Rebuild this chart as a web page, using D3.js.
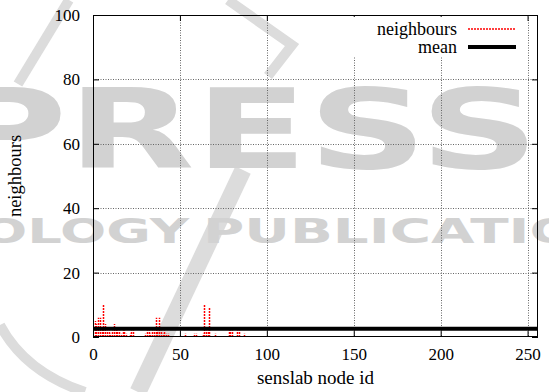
<!DOCTYPE html>
<html>
<head>
<meta charset="utf-8">
<script src="https://cdn.jsdelivr.net/npm/d3@7"></script>
<style>
  body { margin: 0; background: #fff; }
  svg { display: block; }
</style>
</head>
<body>
<div id="chart"></div>
<script>
// node ids with neighbours, and how many each one has
var nodeIds = [1, 2, 3, 4, 5, 6, 7, 8, 9, 10, 11, 12, 13, 14, 15, 16, 17, 18, 19,
               21, 22, 23, 30, 31, 32, 33, 34, 35, 36, 37, 38, 39, 40, 41, 42, 43,
               53, 58, 59, 63, 64, 65, 66, 67, 70, 78, 79, 80, 83, 84, 87];
var neighbours = [5, 4, 6, 6, 3, 10, 4, 2, 2, 1, 2, 4, 3, 2, 2, 1, 2, 2, 1,
                  1, 2, 2, 1, 2, 2, 1, 2, 2, 6, 2, 6, 2, 1, 2, 1, 1,
                  1, 1, 1, 1, 10, 2, 2, 9, 1, 2, 2, 2, 2, 2, 1];
var meanNeighbours = 2.6;

var xTicks = [0, 50, 100, 150, 200, 250];
var yTicks = [0, 20, 40, 60, 80, 100];
var xGrid = [50, 100, 150, 200, 250];
var yGrid = [20, 40, 60, 80];

var serif = "Liberation Serif, serif";

var svgWidth = 549;
var svgHeight = 392;
var margin = {top: 15, right: 11, bottom: 55, left: 93};
var width = svgWidth - margin.left - margin.right;
var height = svgHeight - margin.top - margin.bottom;

var svg = d3.select("#chart")
  .append("svg")
  .attr("width", svgWidth)
  .attr("height", svgHeight);

// publisher watermark behind the plot
var wm = svg.append("g").attr("class", "watermark");
wm.append("path")
  .attr("d", "M69,0 L18,84")
  .attr("stroke", "#dcdcdc").attr("stroke-width", 10).attr("fill", "none");
wm.append("path")
  .attr("d", "M228,0 L292,45 L268,76")
  .attr("stroke", "#dcdcdc").attr("stroke-width", 10).attr("fill", "none");
wm.append("path")
  .attr("d", "M243,170 L138,392")
  .attr("stroke", "#dcdcdc").attr("stroke-width", 17).attr("fill", "none");
wm.append("path")
  .attr("d", "M0,325 Q25,372 85,392")
  .attr("stroke", "#dcdcdc").attr("stroke-width", 10).attr("fill", "none");
wm.append("text")
  .attr("x", -54).attr("y", 168)
  .attr("textLength", 593).attr("lengthAdjust", "spacingAndGlyphs")
  .attr("font-family", "DejaVu Sans").attr("font-weight", "bold")
  .attr("font-size", 111).attr("fill", "#d2d2d2")
  .text("PRESS");
wm.append("text")
  .attr("x", -224).attr("y", 243)
  .attr("textLength", 413).attr("lengthAdjust", "spacingAndGlyphs")
  .attr("font-family", "DejaVu Sans").attr("font-weight", "bold")
  .attr("font-size", 34).attr("fill", "#d2d2d2")
  .text("TECHNOLOGY");
wm.append("text")
  .attr("x", 203).attr("y", 243)
  .attr("textLength", 462).attr("lengthAdjust", "spacingAndGlyphs")
  .attr("font-family", "DejaVu Sans").attr("font-weight", "bold")
  .attr("font-size", 34).attr("fill", "#d2d2d2")
  .text("PUBLICATIONS");

var chartGroup = svg.append("g")
  .attr("transform", `translate(${margin.left}, ${margin.top})`);

var xScale = d3.scaleLinear().domain([0, 256]).range([0, width]);
var yScale = d3.scaleLinear().domain([0, 100]).range([height, 0]);

// dotted grid
chartGroup.selectAll("line.xgrid")
  .data(xGrid).enter().append("line")
  .attr("class", "xgrid")
  .attr("x1", d => Math.round(xScale(d)) + 0.5).attr("x2", d => Math.round(xScale(d)) + 0.5)
  .attr("y1", 0).attr("y2", height)
  .attr("stroke", "#666").attr("stroke-width", 1).attr("stroke-dasharray", "1,1.5");
chartGroup.selectAll("line.ygrid")
  .data(yGrid).enter().append("line")
  .attr("class", "ygrid")
  .attr("y1", d => Math.round(yScale(d)) + 0.5).attr("y2", d => Math.round(yScale(d)) + 0.5)
  .attr("x1", 0).attr("x2", width)
  .attr("stroke", "#666").attr("stroke-width", 1).attr("stroke-dasharray", "1,1.5");

// key sits on an opaque box that hides the grid
svg.append("rect")
  .attr("x", 345).attr("y", 17).attr("width", 178).attr("height", 39)
  .attr("fill", "#fff");

// axes, ticks point inwards and are mirrored
var bottomAxis = d3.axisBottom(xScale).tickValues(xTicks).tickSize(-6).tickPadding(11);
var topAxis = d3.axisTop(xScale).tickValues(xTicks).tickSize(-6).tickFormat("");
var leftAxis = d3.axisLeft(yScale).tickValues(yTicks).tickSize(-6).tickPadding(13);
var rightAxis = d3.axisRight(yScale).tickValues(yTicks).tickSize(-6).tickFormat("");

function styleAxis(g) {
  g.select(".domain").remove();
  g.attr("font-family", serif).attr("font-size", 17);
  g.selectAll(".tick line").attr("stroke", "#000");
  g.selectAll(".tick text").attr("fill", "#000");
}

chartGroup.append("g").attr("transform", `translate(0, ${height})`).call(bottomAxis).call(styleAxis);
chartGroup.append("g").call(topAxis).call(styleAxis);
chartGroup.append("g").call(leftAxis).call(styleAxis);
chartGroup.append("g").attr("transform", `translate(${width}, 0)`).call(rightAxis).call(styleAxis);

// neighbours as dashed impulses
chartGroup.selectAll("line.impulse")
  .data(nodeIds).enter().append("line")
  .attr("class", "impulse")
  .attr("x1", d => Math.round(xScale(d)) + 0.5).attr("x2", d => Math.round(xScale(d)) + 0.5)
  .attr("y1", yScale(0))
  .attr("y2", (d, i) => yScale(neighbours[i]))
  .attr("stroke", "#ff0000").attr("stroke-width", 1.5).attr("stroke-dasharray", "2,1");

// mean line
chartGroup.append("line")
  .attr("x1", xScale(0)).attr("x2", xScale(256))
  .attr("y1", yScale(meanNeighbours)).attr("y2", yScale(meanNeighbours))
  .attr("stroke", "#000").attr("stroke-width", 4);

// border
chartGroup.append("rect")
  .attr("x", 0.5).attr("y", 0.5).attr("width", width - 1).attr("height", height - 1)
  .attr("fill", "none").attr("stroke", "#000").attr("stroke-width", 1);

// axis titles
chartGroup.append("text")
  .attr("transform", `translate(${21 - margin.left}, ${height / 2}) rotate(-90)`)
  .attr("text-anchor", "middle")
  .attr("font-family", serif).attr("font-size", 18.5)
  .text("neighbours");

chartGroup.append("text")
  .attr("x", xScale(128)).attr("y", height + 47)
  .attr("text-anchor", "middle")
  .attr("font-family", serif).attr("font-size", 19)
  .text("senslab node id");

// key
svg.append("text")
  .attr("x", 457).attr("y", 35).attr("text-anchor", "end")
  .attr("font-family", serif).attr("font-size", 18).text("neighbours");
svg.append("line")
  .attr("x1", 468).attr("x2", 516).attr("y1", 29).attr("y2", 29)
  .attr("stroke", "#ff0000").attr("stroke-width", 1.5).attr("stroke-dasharray", "2,1");
svg.append("text")
  .attr("x", 457).attr("y", 53).attr("text-anchor", "end")
  .attr("font-family", serif).attr("font-size", 18).text("mean");
svg.append("line")
  .attr("x1", 468).attr("x2", 516).attr("y1", 47).attr("y2", 47)
  .attr("stroke", "#000").attr("stroke-width", 4);
</script>
</body>
</html>
